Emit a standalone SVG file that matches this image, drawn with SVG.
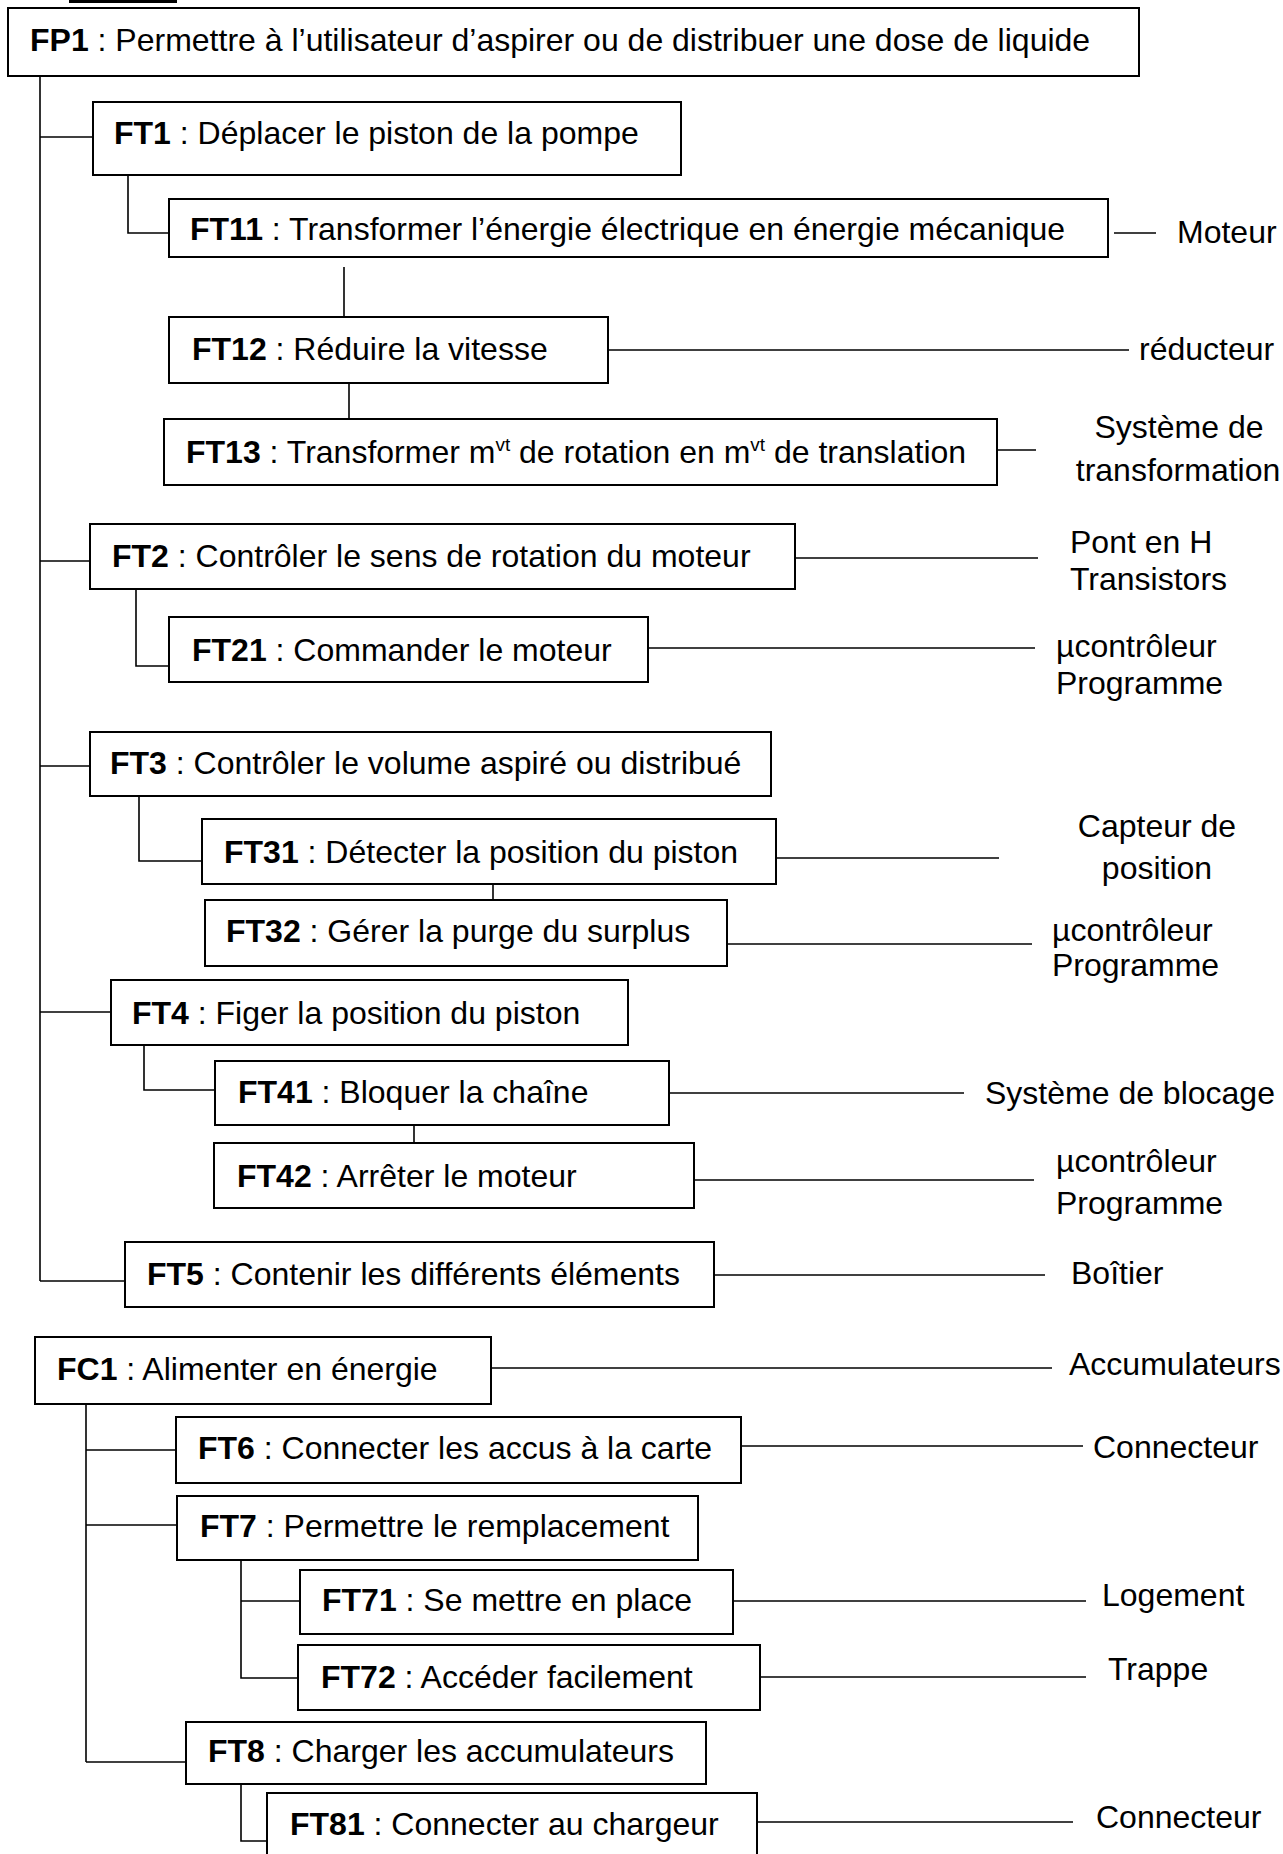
<svg xmlns="http://www.w3.org/2000/svg" width="1283" height="1854" viewBox="0 0 1283 1854">
<style>
  .box { fill: #fff; stroke: #000; stroke-width: 2; }
  .ln { fill: none; stroke: #000; stroke-width: 1.6; }
  text { font-family: "Liberation Sans", Arial, Helvetica, sans-serif; font-size: 32px; fill: #000; }
  .b { font-weight: bold; }
  .sup { font-size: 19px; }
  .mid { text-anchor: middle; }
</style>
<rect width="1283" height="1854" fill="#fff"/>
<line x1="69" y1="1.5" x2="177" y2="1.5" stroke="#000" stroke-width="3"/>

<g id="connectors">
  <!-- FP1 spine -->
  <path class="ln" d="M40 76 V1281"/>
  <path class="ln" d="M40 137 H93"/>
  <path class="ln" d="M40 561 H90"/>
  <path class="ln" d="M40 766 H90"/>
  <path class="ln" d="M40 1012 H111"/>
  <path class="ln" d="M40 1281 H125"/>
  <!-- FT1 children -->
  <path class="ln" d="M128 175 V233 H169"/>
  <path class="ln" d="M344 267 V317"/>
  <path class="ln" d="M349 383 V419"/>
  <!-- FT2 child -->
  <path class="ln" d="M136 589 V666 H169"/>
  <!-- FT3 children -->
  <path class="ln" d="M139 796 V861 H202"/>
  <path class="ln" d="M493 884 V900"/>
  <!-- FT4 children -->
  <path class="ln" d="M144 1045 V1090 H215"/>
  <path class="ln" d="M414 1125 V1143"/>
  <!-- FC1 spine -->
  <path class="ln" d="M86 1404 V1762"/>
  <path class="ln" d="M86 1450 H176"/>
  <path class="ln" d="M86 1525 H177"/>
  <path class="ln" d="M86 1762 H186"/>
  <!-- FT7 children -->
  <path class="ln" d="M241 1560 V1678 H298"/>
  <path class="ln" d="M241 1601 H300"/>
  <!-- FT8 child -->
  <path class="ln" d="M241 1784 V1841 H267"/>
  <!-- solution links -->
  <path class="ln" d="M1114 233 H1156"/>
  <path class="ln" d="M608 350 H1129"/>
  <path class="ln" d="M997 450 H1036"/>
  <path class="ln" d="M795 558 H1038"/>
  <path class="ln" d="M648 648 H1035"/>
  <path class="ln" d="M776 858 H999"/>
  <path class="ln" d="M727 944 H1032"/>
  <path class="ln" d="M669 1093 H964"/>
  <path class="ln" d="M694 1180 H1034"/>
  <path class="ln" d="M714 1275 H1045"/>
  <path class="ln" d="M491 1368 H1052"/>
  <path class="ln" d="M741 1446 H1083"/>
  <path class="ln" d="M733 1601 H1086"/>
  <path class="ln" d="M760 1677 H1086"/>
  <path class="ln" d="M757 1822 H1073"/>
</g>

<g id="FP1"><rect class="box" x="8" y="8" width="1131" height="68"/>
  <text x="30" y="51"><tspan class="b">FP1</tspan> : Permettre à l’utilisateur d’aspirer ou de distribuer une dose de liquide</text></g>

<g id="FT1"><rect class="box" x="93" y="102" width="588" height="73"/>
  <text x="114" y="144"><tspan class="b">FT1</tspan> : Déplacer le piston de la pompe</text></g>

<g id="FT11"><rect class="box" x="169" y="199" width="939" height="58"/>
  <text x="190" y="240"><tspan class="b">FT11</tspan> : Transformer l’énergie électrique en énergie mécanique</text></g>
<g id="S-Moteur"><text x="1177" y="243">Moteur</text></g>

<g id="FT12"><rect class="box" x="169" y="317" width="439" height="66"/>
  <text x="192" y="360"><tspan class="b">FT12</tspan> : Réduire la vitesse</text></g>
<g id="S-reducteur"><text x="1139" y="360">réducteur</text></g>

<g id="FT13"><rect class="box" x="164" y="419" width="833" height="66"/>
  <text x="186" y="463"><tspan class="b">FT13</tspan> : Transformer m<tspan class="sup" dy="-12">vt</tspan><tspan dy="12"> de rotation en m</tspan><tspan class="sup" dy="-12">vt</tspan><tspan dy="12"> de translation</tspan></text></g>
<g id="S-transformation"><text class="mid" x="1179" y="438">Système de</text><text class="mid" x="1178" y="481">transformation</text></g>

<g id="FT2"><rect class="box" x="90" y="524" width="705" height="65"/>
  <text x="112" y="567"><tspan class="b">FT2</tspan> : Contrôler le sens de rotation du moteur</text></g>
<g id="S-pont"><text x="1070" y="553">Pont en H</text><text x="1070" y="590">Transistors</text></g>

<g id="FT21"><rect class="box" x="169" y="617" width="479" height="65"/>
  <text x="192" y="661"><tspan class="b">FT21</tspan> : Commander le moteur</text></g>
<g id="S-uc1"><text x="1056" y="657">µcontrôleur</text><text x="1056" y="694">Programme</text></g>

<g id="FT3"><rect class="box" x="90" y="732" width="681" height="64"/>
  <text x="110" y="774"><tspan class="b">FT3</tspan> : Contrôler le volume aspiré ou distribué</text></g>

<g id="FT31"><rect class="box" x="202" y="819" width="574" height="65"/>
  <text x="224" y="863"><tspan class="b">FT31</tspan> : Détecter la position du piston</text></g>
<g id="S-capteur"><text class="mid" x="1157" y="837">Capteur de</text><text class="mid" x="1157" y="879">position</text></g>

<g id="FT32"><rect class="box" x="205" y="900" width="522" height="66"/>
  <text x="226" y="942"><tspan class="b">FT32</tspan> : Gérer la purge du surplus</text></g>
<g id="S-uc2"><text x="1052" y="941">µcontrôleur</text><text x="1052" y="976">Programme</text></g>

<g id="FT4"><rect class="box" x="111" y="980" width="517" height="65"/>
  <text x="132" y="1024"><tspan class="b">FT4</tspan> : Figer la position du piston</text></g>

<g id="FT41"><rect class="box" x="215" y="1061" width="454" height="64"/>
  <text x="238" y="1103"><tspan class="b">FT41</tspan> : Bloquer la chaîne</text></g>
<g id="S-blocage"><text x="985" y="1104">Système de blocage</text></g>

<g id="FT42"><rect class="box" x="214" y="1143" width="480" height="65"/>
  <text x="237" y="1187"><tspan class="b">FT42</tspan> : Arrêter le moteur</text></g>
<g id="S-uc3"><text x="1056" y="1172">µcontrôleur</text><text x="1056" y="1214">Programme</text></g>

<g id="FT5"><rect class="box" x="125" y="1242" width="589" height="65"/>
  <text x="147" y="1285"><tspan class="b">FT5</tspan> : Contenir les différents éléments</text></g>
<g id="S-boitier"><text x="1071" y="1284">Boîtier</text></g>

<g id="FC1"><rect class="box" x="35" y="1337" width="456" height="67"/>
  <text x="57" y="1380"><tspan class="b">FC1</tspan> : Alimenter en énergie</text></g>
<g id="S-accu"><text x="1069" y="1375">Accumulateurs</text></g>

<g id="FT6"><rect class="box" x="176" y="1417" width="565" height="66"/>
  <text x="198" y="1459"><tspan class="b">FT6</tspan> : Connecter les accus à la carte</text></g>
<g id="S-connecteur1"><text x="1093" y="1458">Connecteur</text></g>

<g id="FT7"><rect class="box" x="177" y="1496" width="521" height="64"/>
  <text x="200" y="1537"><tspan class="b">FT7</tspan> : Permettre le remplacement</text></g>

<g id="FT71"><rect class="box" x="300" y="1570" width="433" height="64"/>
  <text x="322" y="1611"><tspan class="b">FT71</tspan> : Se mettre en place</text></g>
<g id="S-logement"><text x="1102" y="1606">Logement</text></g>

<g id="FT72"><rect class="box" x="298" y="1645" width="462" height="65"/>
  <text x="321" y="1688"><tspan class="b">FT72</tspan> : Accéder facilement</text></g>
<g id="S-trappe"><text x="1108" y="1680">Trappe</text></g>

<g id="FT8"><rect class="box" x="186" y="1722" width="520" height="62"/>
  <text x="208" y="1762"><tspan class="b">FT8</tspan> : Charger les accumulateurs</text></g>

<g id="FT81"><rect class="box" x="267" y="1793" width="490" height="80"/>
  <text x="290" y="1835"><tspan class="b">FT81</tspan> : Connecter au chargeur</text></g>
<g id="S-connecteur2"><text x="1096" y="1828">Connecteur</text></g>
</svg>
